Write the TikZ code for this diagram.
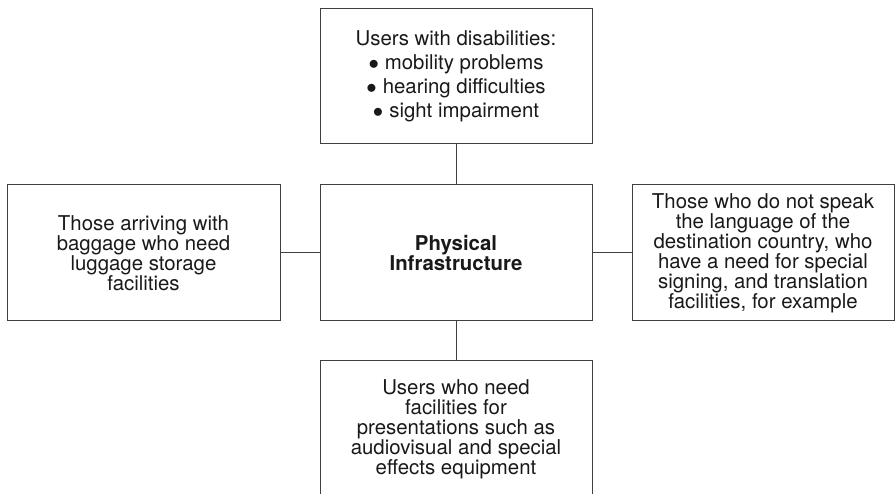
\documentclass[tikz,border=0pt]{standalone}
\usepackage{fontspec}
\setmainfont{TeX Gyre Heros}
\begin{document}
\begin{tikzpicture}[x=1pt,y=1pt]
    \clip (0,0) rectangle (895,494);

    \begin{scope}[every node/.style={rectangle, draw=black!75, line width=1pt, minimum width=272pt, minimum height=136pt, inner sep=0pt, align=center, text=black!90, font=\fontsize{20.4}{20}\selectfont}]
        \node (infra) at (456,241) {\textbf{Physical}\\\textbf{Infrastructure}};
        \node (users) at (456,417.5) [minimum height=135pt] {Users with disabilities:\\[4pt]$\bullet$\hspace{6pt}mobility problems\\[4pt]$\bullet$\hspace{6pt}hearing difficulties\\[4pt]$\bullet$\hspace{6pt}sight impairment};
        \node (baggage) at (143.5,241) [minimum width=273pt] {Those arriving with\\baggage who need\\luggage storage\\facilities};
        \node (language) at (763,241) [minimum width=262pt] {Those who do not speak\\the language of the\\destination country, who\\have a need for special\\signing, and translation\\facilities, for example};
        \node (present) at (456,65) {Users who need\\facilities for\\presentations such as\\audiovisual and special\\effects equipment};
    \end{scope}

    \begin{scope}[every edge/.style={draw=black!75, line width=1pt}]
        \path [-] (users) edge (infra);
        \path [-] (baggage) edge (infra);
        \path [-] (infra) edge (language);
        \path [-] (infra) edge (present);
    \end{scope}
\end{tikzpicture}
\end{document}
